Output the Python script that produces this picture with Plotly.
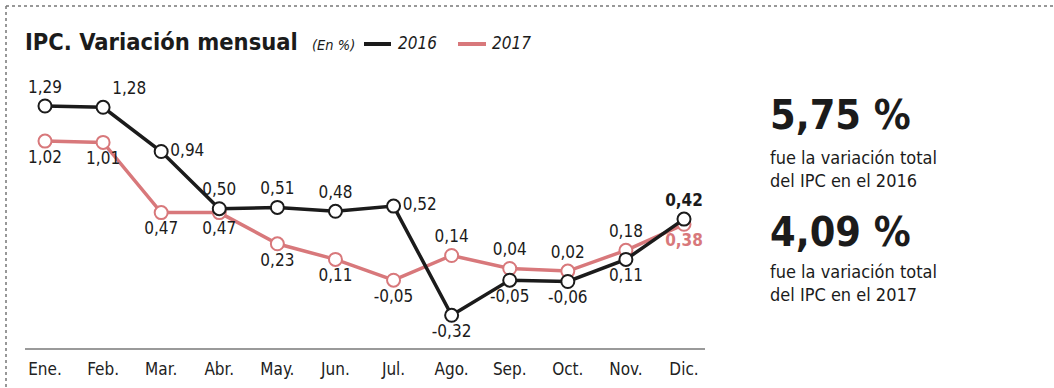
import plotly.graph_objects as go

W, H = 1054, 388

months = ["Ene.", "Feb.", "Mar.", "Abr.", "May.", "Jun.", "Jul.", "Ago.", "Sep.", "Oct.", "Nov.", "Dic."]
v2016 = [1.29, 1.28, 0.94, 0.50, 0.51, 0.48, 0.52, -0.32, -0.05, -0.06, 0.11, 0.42]
v2017 = [1.02, 1.01, 0.47, 0.47, 0.23, 0.11, -0.05, 0.14, 0.04, 0.02, 0.18, 0.38]
pos2016 = ["top center", "top right", "middle right", "top center", "top center", "top center",
           "middle right", "bottom center", "bottom center", "bottom center", "bottom center", "top center"]
pos2017 = ["bottom center"] * 7 + ["top center"] * 4 + ["bottom center"]

BLACK = "#1b1b1b"
RED = "#d8787b"
FONT = "Liberation Sans Narrow, DejaVu Sans Condensed, Roboto Condensed, Arial Narrow, sans-serif"

def fmt(v):
    return f"{v:.2f}".replace(".", ",")

def px(x):
    return x / W

def py(y):
    return 1 - y / H

x = list(range(len(months)))
t16 = [fmt(v) for v in v2016]
t16[-1] = "<b>" + t16[-1] + "</b>"
t17 = [fmt(v) for v in v2017]
t17[-1] = "<b>" + t17[-1] + "</b>"
c17 = [BLACK] * 11 + [RED]

fig = go.Figure()
fig.add_trace(go.Scatter(
    x=x, y=v2017, mode="lines+markers+text", name="2017",
    line=dict(color=RED, width=3.5),
    marker=dict(size=13, color="white", line=dict(color=RED, width=2)),
    text=t17, textposition=pos2017, textfont=dict(family=FONT, size=17, color=c17),
    cliponaxis=False, showlegend=False))
fig.add_trace(go.Scatter(
    x=x, y=v2016, mode="lines+markers+text", name="2016",
    line=dict(color=BLACK, width=3.5),
    marker=dict(size=13, color="white", line=dict(color=BLACK, width=2)),
    text=t16, textposition=pos2016, textfont=dict(family=FONT, size=17, color=BLACK),
    cliponaxis=False, showlegend=False))

# axis geometry
x_left, x_right = 25, 705
ppu_x = (684 - 45) / 11
xr0 = -(45 - x_left) / ppu_x
xr1 = 11 + (x_right - 684) / ppu_x
y_bottom, y_top = 348, 70
zero_px, ppu_y = 273.7, 130
yr0 = (zero_px - y_bottom) / ppu_y
yr1 = (zero_px - y_top) / ppu_y

fig.update_layout(
    width=W, height=H, margin=dict(l=0, r=0, t=0, b=0),
    paper_bgcolor="white", plot_bgcolor="white",
    font=dict(family=FONT, color=BLACK),
    xaxis=dict(domain=[px(x_left), px(x_right)], range=[xr0, xr1],
               tickmode="array", tickvals=x, ticktext=months,
               showgrid=False, zeroline=False, showline=True, linecolor="#9a9a9a", linewidth=2,
               ticks="", ticklabelstandoff=5, tickfont=dict(family=FONT, size=17, color="#222")),
    yaxis=dict(domain=[py(y_bottom), py(y_top)], range=[yr0, yr1],
               showgrid=False, zeroline=False, showline=False, showticklabels=False),
)

ann = []
ann.append(dict(x=px(23), y=py(42), xref="paper", yref="paper", xanchor="left", yanchor="middle",
                text="<b>IPC. Variación mensual</b>", showarrow=False,
                font=dict(family=FONT, size=23.5, color=BLACK)))
ann.append(dict(x=px(310), y=py(45), xref="paper", yref="paper", xanchor="left", yanchor="middle",
                text="<i>(En %)</i>", showarrow=False, font=dict(family=FONT, size=14.5, color=BLACK)))
ann.append(dict(x=px(396), y=py(43), xref="paper", yref="paper", xanchor="left", yanchor="middle",
                text="<i>2016</i>", showarrow=False, font=dict(family=FONT, size=17, color=BLACK)))
ann.append(dict(x=px(490), y=py(43), xref="paper", yref="paper", xanchor="left", yanchor="middle",
                text="<i>2017</i>", showarrow=False, font=dict(family=FONT, size=17, color=BLACK)))

right = [
    ("<b>5,75 %</b>", 115, 41),
    ("fue la variación total", 157, 18),
    ("del IPC en el 2016", 180, 18),
    ("<b>4,09 %</b>", 232, 41),
    ("fue la variación total", 271, 18),
    ("del IPC en el 2017", 294, 18),
]
for txt, yy, sz in right:
    ann.append(dict(x=px(768), y=py(yy), xref="paper", yref="paper", xanchor="left", yanchor="middle",
                    text=txt, showarrow=False, font=dict(family=FONT, size=sz, color=BLACK)))
fig.update_layout(annotations=ann)

shapes = [
    dict(type="line", xref="paper", yref="paper", x0=px(364), x1=px(391), y0=py(44), y1=py(44),
         line=dict(color=BLACK, width=4)),
    dict(type="line", xref="paper", yref="paper", x0=px(458), x1=px(486), y0=py(44), y1=py(44),
         line=dict(color=RED, width=4)),
    dict(type="line", xref="paper", yref="paper", x0=px(6), x1=1, y0=py(6), y1=py(6),
         line=dict(color="#777", width=1.5, dash="dot")),
    dict(type="line", xref="paper", yref="paper", x0=px(6), x1=px(6), y0=py(6), y1=0,
         line=dict(color="#777", width=1.5, dash="dot")),
]
fig.update_layout(shapes=shapes)

fig.write_html("out.html")
